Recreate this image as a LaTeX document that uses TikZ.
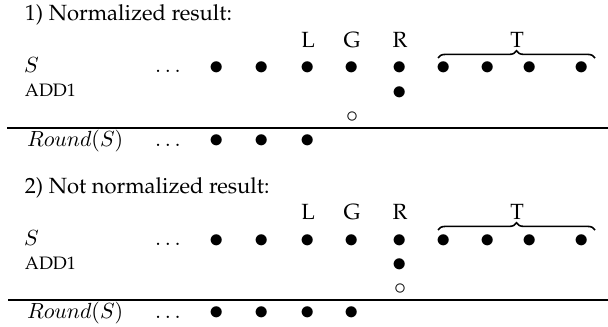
\documentclass[tikz,border=0pt]{standalone}
\usepackage[T1]{fontenc}
\usepackage{palatino}
\usetikzlibrary{decorations.pathreplacing}
\tikzset{
  every node/.style={inner sep=0pt, outer sep=0pt, font=\fontsize{11}{13}\selectfont},
  txt/.style={anchor=base west},
  cell/.style={anchor=base},
  dotcell/.style={anchor=base, font=\fontsize{14.5}{16}\selectfont},
  circcell/.style={anchor=base, font=\fontsize{13}{15}\selectfont},
  smalltxt/.style={anchor=base west, font=\fontsize{9}{11}\selectfont},
  rulestyle/.style={line width=0.8pt},
  bracestyle/.style={decorate, decoration={brace, amplitude=3.6pt, aspect=0.5}, line width=0.8pt},
}
\newcommand{\dotfull}{$\bullet$}
\newcommand{\dothollow}{$\circ$}
\begin{document}
\begin{tikzpicture}[x=0.5pt, y=-0.5pt]
\useasboundingbox (0,0) rectangle (608,326);
% ---------------- part 1 ----------------
\node[txt] (title1) at (25,21) {1) Normalized result:};
\node[cell] (L1) at (308,47) {L};
\node[cell] (G1) at (352,47) {G};
\node[cell] (R1) at (400,47) {R};
\node[cell] (T1) at (517,47) {T};
\node[txt] (S1) at (24,73) {$S$};
\node[cell] (sd1) at (168,73) {$\dots$};
\foreach \n/\x in {a/217, b/262, l/308, g/352, r/400, t1/444, t2/488, t3/530, t4/582}
  \node[dotcell] (s1\n) at (\x,75) {\dotfull};
\node[smalltxt] (add1) at (25,97) {ADD1};
\node[dotcell] (a1r) at (400,99) {\dotfull};
\node[circcell] (c1g) at (352,122) {\dothollow};
\coordinate (ln1a) at (7,128);
\coordinate (ln1b) at (608,128);
\draw[rulestyle] (ln1a) -- (ln1b);
\node[txt] (round1) at (27,146) {$Round(S)$};
\node[cell] (rd1) at (168,146) {$\dots$};
\foreach \n/\x in {a/217, b/262, l/308}
  \node[dotcell] (r1\n) at (\x,147.5) {\dotfull};
\coordinate (br1a) at (438,58);
\coordinate (br1b) at (595,58);
\draw[bracestyle] (br1a) -- (br1b);
% ---------------- part 2 ----------------
\node[txt] (title2) at (25,193) {2) Not normalized result:};
\node[cell] (L2) at (308,219) {L};
\node[cell] (G2) at (352,219) {G};
\node[cell] (R2) at (400,219) {R};
\node[cell] (T2) at (517,219) {T};
\node[txt] (S2) at (24,245) {$S$};
\node[cell] (sd2) at (168,245) {$\dots$};
\foreach \n/\x in {a/217, b/262, l/308, g/352, r/400, t1/444, t2/488, t3/530, t4/582}
  \node[dotcell] (s2\n) at (\x,247) {\dotfull};
\node[smalltxt] (add2) at (25,269) {ADD1};
\node[dotcell] (a2r) at (400,271) {\dotfull};
\node[circcell] (c2r) at (400,294) {\dothollow};
\coordinate (ln2a) at (8,300);
\coordinate (ln2b) at (608,300);
\draw[rulestyle] (ln2a) -- (ln2b);
\node[txt] (round2) at (27,318) {$Round(S)$};
\node[cell] (rd2) at (168,318) {$\dots$};
\foreach \n/\x in {a/217, b/262, l/308, g/352}
  \node[dotcell] (r2\n) at (\x,319.5) {\dotfull};
\coordinate (br2a) at (438,230);
\coordinate (br2b) at (595,230);
\draw[bracestyle] (br2a) -- (br2b);
\end{tikzpicture}
\end{document}
